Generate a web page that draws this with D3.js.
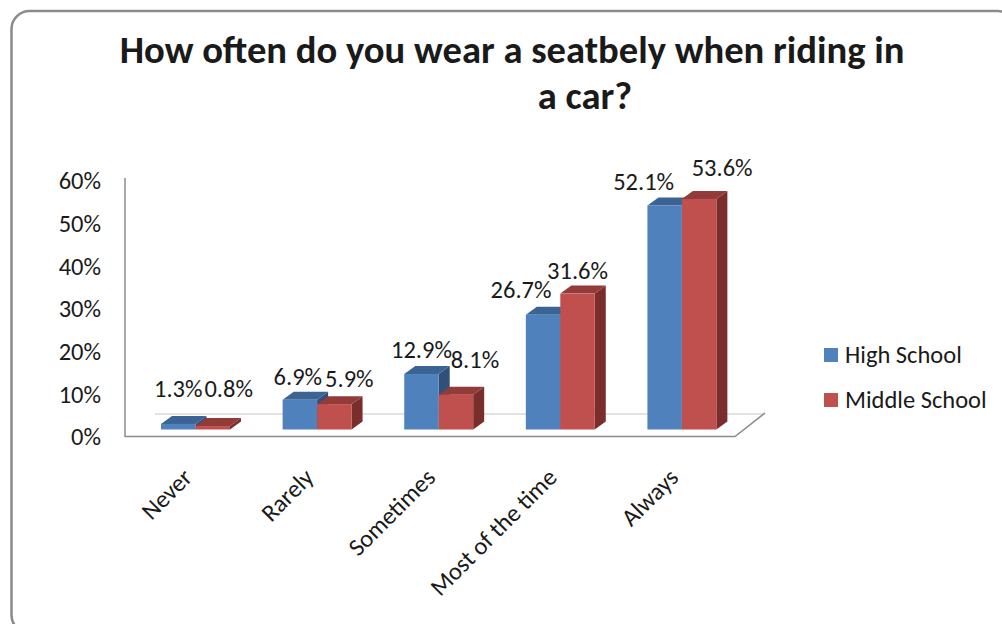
<!DOCTYPE html>
<html>
<head>
<meta charset="utf-8">
<script src="https://cdn.jsdelivr.net/npm/d3@7"></script>
<style>
html,body{margin:0;padding:0;background:#fff;}
svg{display:block;}
text{font-family:Carlito,Calibri,Lato,sans-serif;fill:#1a1a1a;}
</style>
</head>
<body>
<svg id="chart" width="1002" height="624"></svg>
<script>
const titleLines = ["How often do you wear a seatbely when riding in", "a car?"];
const categories = ["Never", "Rarely", "Sometimes", "Most of the time", "Always"];
const seriesNames = ["High School", "Middle School"];
const highSchool = [1.3, 6.9, 12.9, 26.7, 52.1];
const middleSchool = [0.8, 5.9, 8.1, 31.6, 53.6];
const yTicks = [0, 10, 20, 30, 40, 50, 60];
// label nudges (layout only) to mimic the reference's label placement
const labelNudgeHS = [[0,-12],[-2,0],[0,-1],[-22,-2],[-21,0]];
const labelNudgeMS = [[16,-14],[15,-2],[19,-12],[0,0],[23,-8]];

const colors = {
  front: ["#4F81BD", "#C0504D"],
  top:   ["#3B6494", "#933B39"],
  side:  ["#2F5079", "#7A2E2C"]
};

const svg = d3.select("#chart");
const FS = 24.5;

// border
svg.append("rect").attr("x", 11.5).attr("y", 11).attr("width", 1004).attr("height", 622)
  .attr("rx", 18).attr("fill", "#fff").attr("stroke", "#8a8a8a").attr("stroke-width", 2.5);

// title (fit width to reference)
const t1 = svg.append("text").attr("font-weight", "bold").attr("text-anchor", "middle")
  .attr("x", 512).attr("y", 63).style("font-size", "100px").text(titleLines[0]);
const w100 = t1.node().getComputedTextLength();
const tfs = 100 * 785 / w100;
t1.style("font-size", tfs + "px");
svg.append("text").attr("font-weight", "bold").attr("text-anchor", "middle")
  .attr("x", 585).attr("y", 109).style("font-size", tfs + "px").text(titleLines[1]);

// scales
const x = d3.scaleBand().domain(categories).range([134.7, 742.7]).paddingInner(0.433).paddingOuter(0.2165);
const xs = d3.scaleBand().domain(seriesNames).range([0, x.bandwidth()]);
const yBar = d3.scaleLinear().domain([0, 60]).range([429.5, 171.5]);
const yAxis = d3.scaleLinear().domain([0, 60]).range([437, 181]);
const DX = 11, DY = 8;

// floor
svg.append("line").attr("x1", 155).attr("y1", 414).attr("x2", 765).attr("y2", 414)
  .attr("stroke", "#d9d9d9").attr("stroke-width", 1.5);
svg.append("path").attr("d", "M125,436.5 L735,436.5 L765,413")
  .attr("fill", "none").attr("stroke", "#8c8c8c").attr("stroke-width", 1.5);
svg.append("line").attr("x1", 125).attr("y1", 178).attr("x2", 125).attr("y2", 437)
  .attr("stroke", "#8c8c8c").attr("stroke-width", 1.5);

// y axis labels
const ax = svg.append("g").attr("transform", "translate(101,0)")
  .call(d3.axisLeft(yAxis).tickValues(yTicks).tickSize(0).tickPadding(0).tickFormat(d => d + "%"));
ax.select(".domain").remove();
ax.selectAll("text").style("font-size", FS + "px").attr("fill", "#1a1a1a")
  .style("font-family", "Carlito,Calibri,Lato,sans-serif");

// bars
const seriesData = [highSchool, middleSchool];
const nudges = [labelNudgeHS, labelNudgeMS];
const barsG = svg.append("g");
categories.forEach((c, i) => {
  seriesData.forEach((vals, s) => {
    const v = vals[i];
    const x0 = x(c) + xs(seriesNames[s]);
    const x1 = x0 + xs.bandwidth();
    const y0 = yBar(0), yt = yBar(v);
    const g = barsG.append("g");
    g.append("path").attr("d", `M${x1},${y0} L${x1 + DX},${y0 - DY} L${x1 + DX},${yt - DY} L${x1},${yt} Z`)
      .attr("fill", colors.side[s]);
    g.append("path").attr("d", `M${x0},${yt} L${x0 + DX},${yt - DY} L${x1 + DX},${yt - DY} L${x1},${yt} Z`)
      .attr("fill", colors.top[s]);
    g.append("rect").attr("x", x0).attr("y", yt).attr("width", xs.bandwidth()).attr("height", y0 - yt)
      .attr("fill", colors.front[s]);
  });
});

// value labels
categories.forEach((c, i) => {
  seriesData.forEach((vals, s) => {
    const v = vals[i];
    const cx = x(c) + xs(seriesNames[s]) + xs.bandwidth() / 2;
    const n = nudges[s][i];
    svg.append("text").attr("text-anchor", "middle")
      .attr("x", cx + n[0]).attr("y", yBar(v) - DY - 7 + n[1])
      .style("font-size", FS + "px").text(v.toFixed(1) + "%");
  });
});

// category labels
categories.forEach(c => {
  const cx = x(c) + x.bandwidth() / 2;
  svg.append("text").attr("text-anchor", "end")
    .attr("transform", `translate(${cx - 2},${479}) rotate(-45)`)
    .style("font-size", FS + "px").text(c);
});

// legend
seriesNames.forEach((name, s) => {
  const ly = 348 + s * 45;
  svg.append("rect").attr("x", 824).attr("y", ly).attr("width", 14).attr("height", 14)
    .attr("fill", colors.front[s]);
  svg.append("text").attr("x", 845).attr("y", ly + 15).style("font-size", FS + "px").text(name);
});
</script>
</body>
</html>
